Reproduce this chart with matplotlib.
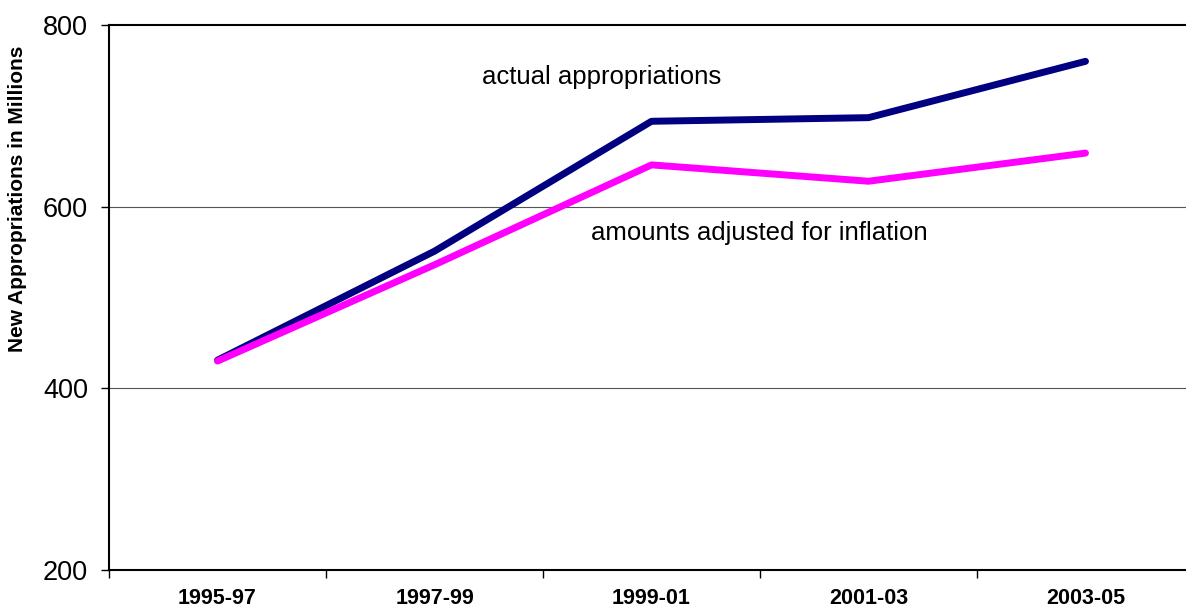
import matplotlib.pyplot as plt

periods = ["1995-97", "1997-99", "1999-01", "2001-03", "2003-05"]
actual = [431, 551, 694, 698, 760]
adjusted = [430, 536, 646, 628, 659]

plt.rcParams["font.family"] = ["Liberation Sans", "DejaVu Sans"]

fig = plt.figure(figsize=(11.86, 6.05), dpi=100)
ax = fig.add_axes([109 / 1186, 35 / 605, 1085 / 1186, 545 / 605])

x = range(len(periods))
ax.plot(x, actual, color="#000080", lw=5, solid_capstyle="round", zorder=3)
ax.plot(x, adjusted, color="#FF00FF", lw=5, solid_capstyle="round", zorder=3)

ax.set_xlim(-0.5, len(periods) - 0.5)
ax.set_ylim(200, 800)
ax.set_yticks([200, 400, 600, 800])
ax.tick_params(axis="y", labelsize=19.5, length=6, width=1, direction="out", pad=9)
ax.set_xticks(list(x))
ax.set_xticklabels(periods, fontsize=15.5, fontweight="bold")
ax.set_xticks([i - 0.5 for i in range(len(periods))], minor=True)
ax.tick_params(axis="x", which="major", length=0, pad=13)
ax.tick_params(axis="x", which="minor", length=6, width=1)

for v in [400, 600]:
    ax.axhline(v, color="#555555", lw=0.8, zorder=1)

for side in ["left", "bottom", "top"]:
    ax.spines[side].set_linewidth(1.5)
ax.spines["right"].set_visible(False)

# label sits above the axis middle in the original
ax.set_ylabel("New Appropriations in Millions", fontsize=15, fontweight="bold",
              va="center", ha="center")
ax.yaxis.set_label_coords(-0.0839, 0.681)

ax.text(1.77, 743, "actual appropriations", fontsize=18.5, ha="center", va="center")
ax.text(2.495, 571, "amounts adjusted for inflation", fontsize=18.5, ha="center", va="center")

fig.savefig("out.png", dpi=100)
